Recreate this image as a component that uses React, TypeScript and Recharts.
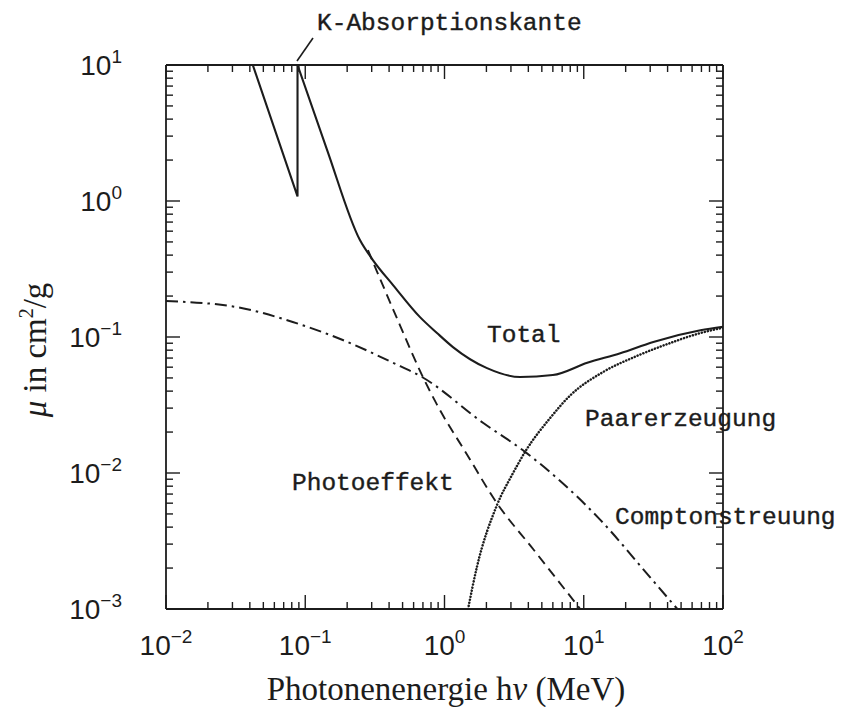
import { Line, LineChart, XAxis, YAxis } from "recharts";

// Photon energy (MeV) and mass attenuation coefficient (cm^2/g)
const totalLowEnergy = [0.042, 0.088, 0.088];
const totalLowMu = [10, 1.08, 10];
const totalEnergy = [0.088, 0.143, 0.247, 0.306, 0.427, 0.667, 0.883, 1.15, 2.02, 3.49, 6.0, 10.6, 18.3, 31.6, 68.9, 100];
const totalMu = [10, 2.4, 0.516, 0.368, 0.241, 0.14, 0.107, 0.0843, 0.059, 0.0508, 0.0525, 0.0646, 0.076, 0.092, 0.112, 0.119];

const photoEnergy = [0.282, 0.479, 0.689, 0.883, 1.45, 2.38, 4.34, 9.44];
const photoMu = [0.436, 0.122, 0.0525, 0.0318, 0.0137, 0.006, 0.00275, 0.001];

const comptonEnergy = [0.01, 0.0321, 0.0813, 0.186, 0.427, 0.689, 1.9, 3.79, 13.2, 30.1, 47];
const comptonMu = [0.184, 0.166, 0.129, 0.095, 0.0646, 0.0508, 0.0233, 0.0143, 0.0045, 0.0017, 0.001];

const pairEnergy = [1.476, 1.71, 2.38, 3.11, 3.79, 5.74, 8.0, 13.9, 24.3, 41.9, 68.9, 100];
const pairMu = [0.001, 0.00204, 0.0058, 0.01, 0.0143, 0.0254, 0.0372, 0.0556, 0.0728, 0.0904, 0.107, 0.117];

const xMajorTicks = [0.01, 0.1, 1, 10, 100];
const yMajorTicks = [0.001, 0.01, 0.1, 1, 10];
const minorSteps = [2, 3, 4, 5, 6, 7, 8, 9];

const INK = "#1c1c1c";

function withMinor(majors: number[]) {
  const out: number[] = [];
  majors.forEach((m, i) => {
    out.push(m);
    if (i < majors.length - 1) minorSteps.forEach((s) => out.push(m * s));
  });
  return out;
}

const xTicks = withMinor(xMajorTicks);
const yTicks = withMinor(yMajorTicks);

const toPoints = (e: number[], mu: number[]) => e.map((x, i) => ({ e: x, mu: mu[i] }));

function isMajor(v: number) {
  const l = Math.log10(v);
  return Math.abs(l - Math.round(l)) < 1e-6;
}

function expText(v: number) {
  const p = Math.round(Math.log10(v));
  return p < 0 ? "\u2212" + Math.abs(p) : String(p);
}

function renderTick(side: "bottom" | "top" | "left" | "right", props: any) {
  const { x, y, payload } = props;
  const v = payload.value;
  const major = isMajor(v);
  const len = major ? 14 : 7;
  let line;
  if (side === "bottom") line = { x1: x, y1: y, x2: x, y2: y - len };
  else if (side === "top") line = { x1: x, y1: y, x2: x, y2: y + len };
  else if (side === "left") line = { x1: x, y1: y, x2: x + len, y2: y };
  else line = { x1: x, y1: y, x2: x - len, y2: y };

  let label = null;
  if (major && side === "bottom") {
    label = (
      <text x={x} y={y + 46} textAnchor="middle" fontFamily="Liberation Sans" fontSize={28} fill={INK}>
        10<tspan dy={-12} fontSize={19}>{expText(v)}</tspan>
      </text>
    );
  }
  if (major && side === "left") {
    label = (
      <text x={x - 44} y={y + 10} textAnchor="end" fontFamily="Liberation Sans" fontSize={28} fill={INK}>
        10<tspan dy={-12} fontSize={19}>{expText(v)}</tspan>
      </text>
    );
  }
  return (
    <g>
      <line {...line} stroke={INK} strokeWidth={1.4} />
      {label}
    </g>
  );
}

const axisStyle = { stroke: INK, strokeWidth: 1.8 };
const monoText = { fontFamily: "Liberation Mono", fontSize: 24.5, fill: INK, stroke: INK, strokeWidth: 0.4 };

export default function App() {
  return (
    <div style={{ position: "absolute", left: 0, top: 0, width: 853, height: 707, background: "#fff" }}>
      <LineChart width={853} height={707} margin={{ top: 64, right: 129, bottom: 0, left: 0 }}>
        <XAxis
          xAxisId="b"
          dataKey="e"
          type="number"
          scale="log"
          domain={[0.01, 100]}
          allowDataOverflow
          ticks={xTicks}
          interval={0}
          height={98}
          tickSize={0}
          tickMargin={0}
          tickLine={false}
          axisLine={axisStyle}
          tick={(p: any) => renderTick("bottom", p)}
        />
        <XAxis
          xAxisId="t"
          orientation="top"
          dataKey="e"
          type="number"
          scale="log"
          domain={[0.01, 100]}
          allowDataOverflow
          ticks={xTicks}
          interval={0}
          height={1}
          tickSize={0}
          tickMargin={0}
          tickLine={false}
          axisLine={axisStyle}
          tick={(p: any) => renderTick("top", p)}
        />
        <YAxis
          yAxisId="l"
          dataKey="mu"
          type="number"
          scale="log"
          domain={[0.001, 10]}
          allowDataOverflow
          ticks={yTicks}
          interval={0}
          width={166}
          tickSize={0}
          tickMargin={0}
          tickLine={false}
          axisLine={axisStyle}
          tick={(p: any) => renderTick("left", p)}
        />
        <YAxis
          yAxisId="r"
          orientation="right"
          dataKey="mu"
          type="number"
          scale="log"
          domain={[0.001, 10]}
          allowDataOverflow
          ticks={yTicks}
          interval={0}
          width={1}
          tickSize={0}
          tickMargin={0}
          tickLine={false}
          axisLine={axisStyle}
          tick={(p: any) => renderTick("right", p)}
        />
        <Line
          xAxisId="b"
          yAxisId="l"
          name="Total"
          data={toPoints(totalLowEnergy, totalLowMu)}
          dataKey="mu"
          type="linear"
          stroke={INK}
          strokeWidth={2.1}
          dot={false}
          isAnimationActive={false}
        />
        <Line
          xAxisId="b"
          yAxisId="l"
          name="Total"
          data={toPoints(totalEnergy, totalMu)}
          dataKey="mu"
          type="monotone"
          stroke={INK}
          strokeWidth={2.1}
          dot={false}
          isAnimationActive={false}
        />
        <Line
          xAxisId="b"
          yAxisId="l"
          name="Photoeffekt"
          data={toPoints(photoEnergy, photoMu)}
          dataKey="mu"
          type="monotone"
          stroke={INK}
          strokeWidth={1.9}
          strokeDasharray="10 6"
          dot={false}
          isAnimationActive={false}
        />
        {/* same domains as bottom/left; bound to top/right so the mirrored frame axes are drawn */}
        <Line
          xAxisId="t"
          yAxisId="r"
          name="Comptonstreuung"
          data={toPoints(comptonEnergy, comptonMu)}
          dataKey="mu"
          type="monotone"
          stroke={INK}
          strokeWidth={2}
          strokeDasharray="12 5 2.5 5"
          dot={false}
          isAnimationActive={false}
        />
        <Line
          xAxisId="b"
          yAxisId="l"
          name="Paarerzeugung"
          data={toPoints(pairEnergy, pairMu)}
          dataKey="mu"
          type="monotone"
          stroke={INK}
          strokeWidth={2.5}
          strokeLinecap="round"
          strokeDasharray="0.1 3"
          dot={false}
          isAnimationActive={false}
        />
        <text x={317} y={30} {...monoText}>K-Absorptionskante</text>
        <line x1={297} y1={61} x2={313} y2={38} stroke={INK} strokeWidth={1.6} />
        <text x={487} y={342} {...monoText}>Total</text>
        <text x={585} y={426} {...monoText}>Paarerzeugung</text>
        <text x={292} y={490} {...monoText}>Photoeffekt</text>
        <text x={615} y={524} {...monoText}>Comptonstreuung</text>
        <text
          transform="translate(46,350) rotate(-90)"
          textAnchor="middle"
          fontFamily="Liberation Serif"
          fontSize={33}
          fill={INK}
        >
          <tspan fontStyle="italic">μ</tspan> in cm<tspan dy={-13} fontSize={20}>2</tspan>
          <tspan dy={13}>/g</tspan>
        </text>
        <text x={446} y={700} textAnchor="middle" fontFamily="Liberation Serif" fontSize={33} fill={INK}>
          Photonenenergie h<tspan fontStyle="italic">ν</tspan> (MeV)
        </text>
      </LineChart>
    </div>
  );
}
